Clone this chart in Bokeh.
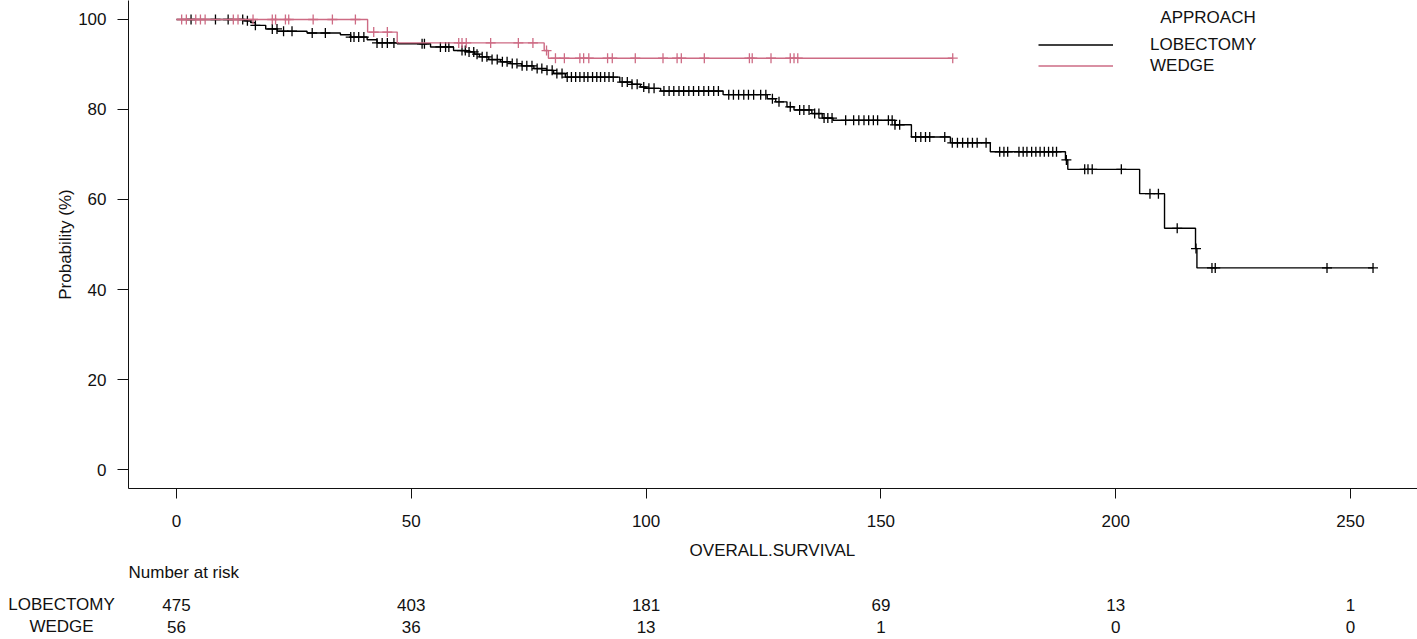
import numpy as np
from bokeh.plotting import figure
from bokeh.models import Range1d, Legend, LegendItem, Label, FixedTicker
from bokeh.layouts import column, row
from bokeh.embed import file_html
from bokeh.resources import INLINE
from bokeh.core.properties import value

FONT = "Liberation Sans"

# ---------------- data ----------------
groups = ["LOBECTOMY", "WEDGE"]

lob_event_t = [14.5, 15.8, 16.8, 19.0, 21.5, 27.8, 34.9, 37.1, 40.6, 42.7, 47.0,
               54.1, 59.0, 61.8, 63.5, 64.5, 66.5, 69.0, 71.1, 73.5, 76.1, 78.8,
               80.3, 82.8, 94.4, 97.0, 98.8, 100.0, 103.1, 116.4, 125.8, 127.6,
               130.0, 131.5, 135.3, 137.5, 139.8, 153.0, 156.5, 164.8, 173.3,
               189.3, 189.8, 205.1, 210.4, 217.0, 217.3]
lob_event_s = [99.7, 99.3, 98.7, 97.9, 97.4, 97.0, 96.6, 96.1, 95.5, 94.8, 94.6,
               93.9, 93.1, 92.8, 92.3, 91.7, 91.1, 90.6, 90.2, 89.7, 89.1, 88.7,
               88.0, 87.2, 86.1, 85.6, 85.0, 84.7, 84.1, 83.3, 82.4, 81.7,
               80.6, 79.9, 79.1, 78.1, 77.6, 76.6, 73.9, 72.6, 70.6,
               68.8, 66.7, 61.3, 53.6, 49.1, 44.8]
lob_censor_t = [3.1, 8.3, 11.0, 14.1, 15.1, 16.8, 20.4, 21.4, 22.8, 24.6, 28.9, 31.7,
                37.1, 37.8, 38.8, 39.9, 42.7, 43.8, 44.9, 46.3, 52.3, 52.8, 56.2,
                57.3, 58.0, 60.8, 61.5, 62.3, 63.3, 64.0, 65.1, 66.1, 67.2, 68.3,
                69.4, 70.4, 71.5, 72.5, 73.6, 74.6, 75.7, 76.8, 77.8, 78.9, 80.0,
                81.0, 82.1, 83.2, 84.1, 85.0, 85.9, 86.8, 87.6, 88.6, 89.5, 90.3,
                91.2, 92.1, 93.0, 94.9, 96.0, 97.0, 98.1, 99.5, 100.6, 101.7,
                103.8, 104.9, 105.9, 107.0, 108.0, 109.1, 110.1, 111.2, 112.3,
                113.3, 114.4, 115.4, 117.6, 118.6, 119.7, 120.8, 121.8, 122.9,
                124.4, 125.5, 126.9, 128.3, 130.7, 132.7, 133.6, 134.7, 135.9,
                136.8, 137.9, 138.7, 139.6, 142.5, 144.2, 145.3, 146.4, 147.4,
                148.4, 149.3, 151.6, 152.4, 153.0, 154.0, 157.4, 158.5, 159.5,
                160.4, 163.6, 165.2, 166.3, 167.4, 168.5, 169.5, 170.5, 172.4,
                175.3, 176.2, 177.0, 179.4, 180.3, 181.1, 182.1, 183.0, 183.9,
                184.8, 185.7, 186.6, 187.4, 189.5, 193.4, 194.1, 195.0, 201.2,
                207.3, 209.1, 213.1, 217.1, 220.5, 221.2, 245.0, 254.8]

wed_event_t = [40.7, 47.0, 78.3, 79.2]
wed_event_s = [97.2, 94.8, 93.1, 91.4]
wed_censor_t = [1.1, 2.1, 4.1, 5.1, 6.1, 12.1, 13.1, 16.3, 20.4, 21.1, 23.2, 23.9,
                29.1, 33.2, 38.1, 42.0, 44.9, 60.1, 60.8, 61.7, 66.9, 72.8, 75.9,
                78.8, 80.7, 82.6, 85.9, 86.7, 87.8, 91.8, 92.8, 97.7, 103.6, 106.6,
                107.5, 112.4, 122.0, 122.6, 126.6, 130.7, 131.5, 132.3, 165.3]

risk_times = [0, 50, 100, 150, 200, 250]
risk_lob = [475, 403, 181, 69, 13, 1]
risk_wed = [56, 36, 13, 1, 0, 0]

x_ticks = [0, 50, 100, 150, 200, 250]
y_ticks = [0, 20, 40, 60, 80, 100]

COL_LOB = "black"
COL_WED = "#CD6B84"
TXT = "#111111"

X_START, X_END = -10.22, 264.27


def km_path(ev_t, ev_s, cens_t):
    end = max(list(cens_t) + list(ev_t))
    xs = [0.0] + list(ev_t) + [end]
    ys = [100.0] + list(ev_s) + [ev_s[-1]]
    return xs, ys


def level_at(ev_t, ev_s, t):
    idx = np.searchsorted(np.asarray(ev_t), np.asarray(t), side="right")
    levels = np.concatenate([[100.0], np.asarray(ev_s)])
    return levels[idx]


# ---------------- main plot ----------------
p = figure(width=1417, height=538, output_backend="svg", toolbar_location=None,
           x_range=Range1d(X_START, X_END), y_range=Range1d(-4.22, 104.22),
           min_border_left=128, min_border_right=0, min_border_top=0,
           min_border_bottom=50)
p.outline_line_color = None
p.xgrid.visible = False
p.ygrid.visible = False
p.background_fill_color = "white"

for ax, ticks in ((p.xaxis[0], x_ticks), (p.yaxis[0], y_ticks)):
    ax.ticker = FixedTicker(ticks=ticks)
    ax.minor_tick_line_color = None
    ax.major_tick_in = 0
    ax.axis_line_color = TXT
    ax.major_tick_line_color = TXT
    ax.major_label_text_font = FONT
    ax.major_label_text_font_size = "17px"
    ax.major_label_text_color = TXT

p.xaxis[0].major_tick_out = 10
p.xaxis[0].major_label_standoff = 16
p.yaxis[0].major_tick_out = 11
p.yaxis[0].major_label_standoff = 11
p.yaxis[0].axis_label = "Probability (%)"
p.yaxis[0].axis_label_text_font = FONT
p.yaxis[0].axis_label_text_font_size = "17px"
p.yaxis[0].axis_label_text_font_style = "normal"
p.yaxis[0].axis_label_text_color = TXT
p.yaxis[0].axis_label_standoff = 0

renderers = {}
for name, et, es, ct, col in (("LOBECTOMY", lob_event_t, lob_event_s, lob_censor_t, COL_LOB),
                              ("WEDGE", wed_event_t, wed_event_s, wed_censor_t, COL_WED)):
    xs, ys = km_path(et, es, ct)
    r = p.step(xs, ys, mode="after", line_color=col, line_width=1.4)
    p.scatter(ct, level_at(et, es, ct), marker="cross", size=10,
              line_color=col, line_width=1.3)
    renderers[name] = r

legend = Legend(items=[LegendItem(label=g, renderers=[renderers[g]]) for g in groups],
                location=(910, 412), orientation="vertical",
                glyph_width=75, glyph_height=21, label_height=21,
                label_standoff=37, spacing=0, padding=0, margin=0,
                label_text_font=FONT, label_text_font_size="17px",
                label_text_color=TXT,
                border_line_color=None, background_fill_alpha=0)
p.add_layout(legend)

p.add_layout(Label(x=209.5, y=100.5, text="APPROACH", text_font=FONT,
                   text_font_size="17px", text_color=TXT,
                   text_align="left", text_baseline="middle"))

# ---------------- x title and number-at-risk table (below the plot) ----------------
# rows are placed in page pixel rows 538..639
Y_TOP, Y_BOT = 538, 639
Y_XTITLE, Y_NRISK, Y_ROW1, Y_ROW2 = 550, 572, 604, 626

common = dict(text_font=value(FONT), text_font_size="17px", text_color=TXT,
              text_baseline="middle")


def bare(fig):
    fig.axis.visible = False
    fig.grid.visible = False
    fig.outline_line_color = None
    return fig


names = bare(figure(width=128, height=Y_BOT - Y_TOP, output_backend="svg",
                    toolbar_location=None, x_range=Range1d(0, 128),
                    y_range=Range1d(Y_BOT, Y_TOP), min_border=0))
names.text(x=[61, 61], y=[Y_ROW1, Y_ROW2], text=groups, text_align="center", **common)

nums = bare(figure(width=1417 - 128, height=Y_BOT - Y_TOP, output_backend="svg",
                   toolbar_location=None, x_range=Range1d(X_START, X_END),
                   y_range=Range1d(Y_BOT, Y_TOP), min_border=0))
nums.text(x=[126.9], y=[Y_XTITLE], text=["OVERALL.SURVIVAL"], text_align="center", **common)
nums.text(x=[X_START], y=[Y_NRISK], text=["Number at risk"], text_align="left", **common)
nums.text(x=risk_times, y=[Y_ROW1] * len(risk_times), text=[str(v) for v in risk_lob],
          text_align="center", **common)
nums.text(x=risk_times, y=[Y_ROW2] * len(risk_times), text=[str(v) for v in risk_wed],
          text_align="center", **common)

layout = column(p, row(names, nums, spacing=0), spacing=0)
open("out.html", "w").write(file_html(layout, INLINE))
